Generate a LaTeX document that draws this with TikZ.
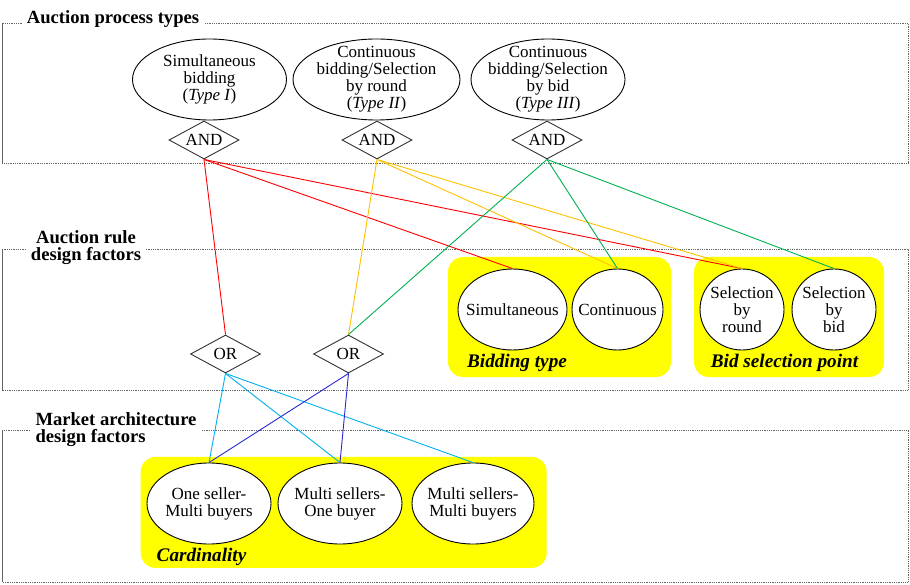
\documentclass[tikz,border=0pt]{standalone}
\usepackage{fontspec}
\setmainfont{Liberation Serif}
\usetikzlibrary{shapes.geometric}
\definecolor{cred}{RGB}{255,0,0}
\definecolor{corange}{RGB}{255,192,0}
\definecolor{cgreen}{RGB}{0,176,80}
\definecolor{ccyan}{RGB}{0,176,240}
\definecolor{cblue}{RGB}{40,40,210}
\definecolor{framegray}{RGB}{100,100,100}
\definecolor{cyellow}{RGB}{255,255,0}
\begin{document}
\begin{tikzpicture}[x=1pt,y=-1pt,
  txt/.style={font=\fontsize{17}{17}\selectfont, align=center, inner sep=0},
  ell/.style={ellipse, draw=black, fill=white, line width=0.9pt, inner sep=0},
  gate/.style={diamond, aspect=1.84, draw=black!80, fill=white, line width=0.9pt, inner sep=0, minimum width=70pt, minimum height=38pt, font=\fontsize{17}{17}\selectfont},
  frame/.style={draw=framegray, densely dotted, line width=0.8pt},
  frameside/.style={draw=framegray, line width=0.8pt},
  title/.style={font=\bfseries\fontsize{18.6}{17}\selectfont, fill=white, inner xsep=5pt, inner ysep=1pt},
  ybox/.style={fill=cyellow, rounded corners=15pt, inner sep=0},
  ylab/.style={font=\bfseries\itshape\fontsize{19.2}{19}\selectfont, inner sep=0},
  conn/.style={line width=0.9pt},
]
\useasboundingbox (0,0) rectangle (910,585);

% frames
\draw[frame] (2,23) rectangle (908,163);
\draw[frameside] (2,23) -- (2,163);
\draw[frame] (2,249) rectangle (908,390);
\draw[frameside] (2,249) -- (2,390);
\draw[frame] (2,430) rectangle (908,582);
\draw[frameside] (2,430) -- (2,582);

\node[title] (t1) at (113,19) {Auction process types};
\node[title, align=center] (t2) at (86,248) {Auction rule\\design factors};
\node[title, align=left] (t3) at (116,430) {Market architecture\\design factors};

% yellow groups
\node[ybox, minimum width=223pt, minimum height=120pt] (yb1) at (559.5,317) {};
\node[ybox, minimum width=190pt, minimum height=120pt] (yb2) at (789,317) {};
\node[ybox, minimum width=406pt, minimum height=111pt] (yb3) at (343.7,512.4) {};
\node[ylab] (l1) at (517,363) {Bidding type};
\node[ylab] (l2) at (784.5,363) {Bid selection point};
\node[ylab] (l3) at (201.5,557) {Cardinality};

% process types
\node[ell, minimum width=154pt, minimum height=81pt,
  label={[txt]center:Simultaneous\\bidding\\(\textit{Type I})}] (p1) at (209.5,79.5) {};
\node[ell, minimum width=167pt, minimum height=81pt,
  label={[txt]center:Continuous\\bidding/Selection\\by round\\(\textit{Type II})}] (p2) at (376.5,79.5) {};
\node[ell, minimum width=154pt, minimum height=81pt,
  label={[txt]center:Continuous\\bidding/Selection\\by bid\\(\textit{Type III})}] (p3) at (548,79.5) {};
\node[gate] (a1) at (204,140) {AND};
\node[gate] (a2) at (377,140) {AND};
\node[gate] (a3) at (547,140) {AND};

% rule factors
\node[ell, minimum width=109pt, minimum height=81pt, label={[txt]center:Simultaneous}] (s1) at (512.5,309.5) {};
\node[ell, minimum width=91pt, minimum height=81pt, label={[txt]center:Continuous}] (s2) at (617.5,309.5) {};
\node[ell, minimum width=84pt, minimum height=81pt, label={[txt]center:Selection\\by\\round}] (s3) at (742,309.5) {};
\node[ell, minimum width=84pt, minimum height=81pt, label={[txt]center:Selection\\by\\bid}] (s4) at (834,309.5) {};
\node[gate] (o1) at (225.5,354) {OR};
\node[gate] (o2) at (348.5,354) {OR};

% market architecture
\node[ell, minimum width=124pt, minimum height=81pt, label={[txt]center:One seller-\\Multi buyers}] (c1) at (209,503.5) {};
\node[ell, minimum width=124pt, minimum height=81pt, label={[txt]center:Multi sellers-\\One buyer}] (c2) at (340,503.5) {};
\node[ell, minimum width=122pt, minimum height=81pt, label={[txt]center:Multi sellers-\\Multi buyers}] (c3) at (473,503.5) {};

% connectors
\draw[conn, cred] (a1.south) -- (o1.north);
\draw[conn, cred] (a1.south) -- (s1.north);
\draw[conn, cred] (a1.south) -- (s3.north);
\draw[conn, corange] (a2.south) -- (o2.north);
\draw[conn, corange] (a2.south) -- (s2.north);
\draw[conn, corange] (a2.south) -- (s3.north);
\draw[conn, cgreen] (a3.south) -- (o2.north);
\draw[conn, cgreen] (a3.south) -- (s2.north);
\draw[conn, cgreen] (a3.south) -- (s4.north);
\draw[conn, ccyan] (o1.south) -- (c1.north);
\draw[conn, ccyan] (o1.south) -- (c2.north);
\draw[conn, ccyan] (o1.south) -- (c3.north);
\draw[conn, cblue] (o2.south) -- (c1.north);
\draw[conn, cblue] (o2.south) -- (c2.north);
\end{tikzpicture}
\end{document}
